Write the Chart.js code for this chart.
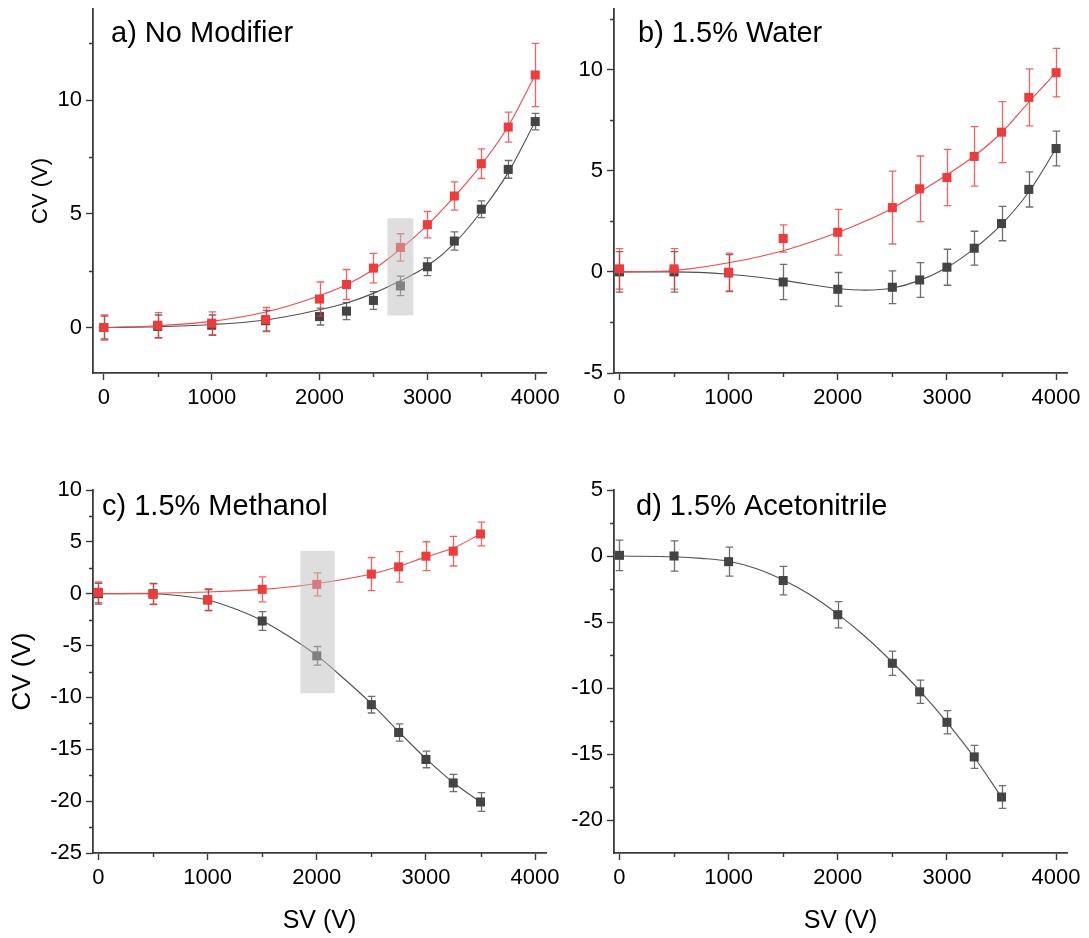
<!DOCTYPE html>
<html>
<head>
<meta charset="utf-8">
<script src="https://cdn.jsdelivr.net/npm/chart.js@4.4.1/dist/chart.umd.min.js"></script>
<style>
  html, body { margin: 0; padding: 0; background: #ffffff; }
  #wrap { position: relative; width: 1089px; height: 938px; overflow: hidden; }
  #wrap canvas { position: absolute; left: 0; top: 0; }
</style>
</head>
<body>
<div id="wrap">
  <canvas id="panelA" width="1089" height="938"></canvas>
  <canvas id="panelB" width="1089" height="938"></canvas>
  <canvas id="panelC" width="1089" height="938"></canvas>
  <canvas id="panelD" width="1089" height="938"></canvas>
</div>
<script>
// ---------- shared SV axis ----------
const X_TICKS = [0, 1000, 2000, 3000, 4000];
const X_MINOR = [500, 1500, 2500, 3500];

// ---------- a) No Modifier ----------
const svA        = [0, 500, 1000, 1500, 2000, 2250, 2500, 2750, 3000, 3250, 3500, 3750, 4000];
const cvA_red    = [0, 0.10, 0.19, 0.35, 1.25, 1.89, 2.61, 3.52, 4.52, 5.78, 7.20, 8.81, 11.10];
const errA_red   = [0.55, 0.55, 0.50, 0.53, 0.75, 0.66, 0.65, 0.60, 0.58, 0.62, 0.65, 0.66, 1.39];
const cvA_black  = [0, 0.05, 0.10, 0.30, 0.48, 0.72, 1.19, 1.83, 2.67, 3.80, 5.20, 6.95, 9.05];
const errA_black = [0.50, 0.50, 0.45, 0.45, 0.37, 0.37, 0.39, 0.43, 0.39, 0.40, 0.37, 0.39, 0.36];
const fitA_sv    = [0, 500, 1000, 1500, 2000, 2250, 2500, 2750, 3000, 3250, 3500, 3750, 4000];
const fitA_red   = [0, 0.08, 0.27, 0.68, 1.40, 1.88, 2.55, 3.45, 4.50, 5.75, 7.15, 8.85, 11.10];
const fitA_black = [0, 0.03, 0.13, 0.33, 0.78, 1.08, 1.50, 2.05, 2.70, 3.70, 5.10, 6.82, 9.05];
const yTicksA    = [0, 5, 10];
const yMinorA    = [2.5, 7.5, 12.5];
const boxA       = [2630, 2870, 0.53, 4.8];   // SV from, SV to, CV from, CV to

// ---------- b) 1.5% Water ----------
const svB        = [0, 500, 1000, 1500, 2000, 2500, 2750, 3000, 3250, 3500, 3750, 4000];
const cvB_red    = [0.15, 0.15, -0.02, 1.65, 1.96, 3.18, 4.11, 4.67, 5.71, 6.91, 8.63, 9.85];
const errB_red   = [1.00, 1.00, 0.95, 0.67, 1.13, 1.80, 1.62, 1.39, 1.47, 1.51, 1.41, 1.20];
const cvB_black  = [0, 0, -0.05, -0.50, -0.86, -0.76, -0.40, 0.23, 1.17, 2.39, 4.08, 6.10];
const errB_black = [1.00, 1.00, 0.90, 0.87, 0.83, 0.81, 0.86, 0.89, 0.84, 0.85, 0.87, 0.86];
const fitB_sv    = [0, 500, 1000, 1500, 2000, 2250, 2500, 2750, 3000, 3250, 3500, 3750, 4000];
const fitB_red   = [0, 0.07, 0.45, 1.05, 1.95, 2.50, 3.15, 3.95, 4.80, 5.73, 6.88, 8.40, 9.85];
const fitB_black = [0, 0, -0.12, -0.42, -0.82, -0.90, -0.80, -0.42, 0.22, 1.15, 2.35, 3.95, 6.10];
const yTicksB    = [-5, 0, 5, 10];
const yMinorB    = [-2.5, 2.5, 7.5, 12.5];

// ---------- c) 1.5% Methanol ----------
const svC        = [0, 500, 1000, 1500, 2000, 2500, 2750, 3000, 3250, 3500];
const cvC_red    = [0.13, -0.06, -0.58, 0.42, 0.90, 1.89, 2.59, 3.62, 4.10, 5.76];
const errC_red   = [1.00, 1.00, 1.07, 1.20, 1.10, 1.60, 1.47, 1.39, 1.43, 1.14];
const cvC_black  = [0, 0, -0.60, -2.63, -5.99, -10.70, -13.38, -15.98, -18.25, -20.08];
const errC_black = [1.00, 1.00, 1.00, 0.91, 0.90, 0.80, 0.83, 0.80, 0.83, 0.90];
const fitC_sv    = [0, 500, 750, 1000, 1250, 1500, 1750, 2000, 2250, 2500, 2750, 3000, 3250, 3500];
const fitC_red   = [0, 0.04, 0.09, 0.16, 0.27, 0.42, 0.65, 0.98, 1.40, 1.90, 2.62, 3.55, 4.40, 5.76];
const fitC_black = [0, 0, -0.20, -0.60, -1.45, -2.60, -4.15, -5.95, -8.20, -10.60, -13.30, -15.90, -18.20, -20.10];
const yTicksC    = [-25, -20, -15, -10, -5, 0, 5, 10];
const yMinorC    = [-22.5, -17.5, -12.5, -7.5, -2.5, 2.5, 7.5];
const boxC       = [1850, 2165, -9.6, 4.13];

// ---------- d) 1.5% Acetonitrile ----------
const svD        = [0, 500, 1000, 1500, 2000, 2500, 2750, 3000, 3250, 3500];
const cvD_black  = [0.05, 0, -0.43, -1.86, -4.45, -8.13, -10.29, -12.60, -15.22, -18.26];
const errD_black = [1.16, 1.15, 1.10, 1.08, 1.00, 0.92, 0.88, 0.88, 0.87, 0.86];
const fitD_sv    = [0, 500, 750, 1000, 1250, 1500, 1750, 2000, 2250, 2500, 2750, 3000, 3250, 3500];
const fitD_black = [0, -0.06, -0.18, -0.40, -0.95, -1.82, -2.95, -4.40, -6.10, -8.05, -10.20, -12.60, -15.25, -18.26];
const yTicksD    = [-20, -15, -10, -5, 0, 5];
const yMinorD    = [-17.5, -12.5, -7.5, -2.5, 2.5];

// ---------- styling ----------
const FONT = '"Liberation Sans", Arial, Helvetica, sans-serif';
const AXIS = '#3a3a3a';
const RED = '#ee3b3b', RED_BAR = 'rgba(234,56,56,0.78)', RED_LINE = '#f04a4a';
const BLK = '#444444', BLK_BAR = 'rgba(70,70,70,0.78)', BLK_LINE = '#505050';

// error bars drawn just before each marker set
const errorBarPlugin = {
  id: 'errorBars',
  beforeDatasetDraw(chart, args) {
    const ds = chart.data.datasets[args.index];
    if (!ds.errorBars) return;
    const { ctx, scales: { x, y } } = chart;
    ctx.save();
    ctx.strokeStyle = ds.errorColor;
    ctx.lineWidth = 1.3;
    ds.data.forEach((p, i) => {
      const e = ds.errorBars[i];
      const px = Math.round(x.getPixelForValue(p.x)) + 0.5;
      const top = y.getPixelForValue(p.y + e);
      const bot = y.getPixelForValue(p.y - e);
      ctx.beginPath();
      ctx.moveTo(px, top); ctx.lineTo(px, bot);
      ctx.moveTo(px - 3.8, top); ctx.lineTo(px + 3.8, top);
      ctx.moveTo(px - 3.8, bot); ctx.lineTo(px + 3.8, bot);
      ctx.stroke();
    });
    ctx.restore();
  }
};

// translucent grey band over the highlighted SV step
const highlightPlugin = {
  id: 'highlight',
  afterDatasetsDraw(chart, args, opts) {
    if (!opts || !opts.box) return;
    const { ctx, scales: { x, y } } = chart;
    const [x0, x1, y0, y1] = opts.box;
    const l = x.getPixelForValue(x0), r = x.getPixelForValue(x1);
    const t = y.getPixelForValue(y1), b = y.getPixelForValue(y0);
    ctx.save();
    ctx.fillStyle = 'rgba(190,190,190,0.5)';
    ctx.fillRect(l, t, r - l, b - t);
    ctx.restore();
  }
};

// half-length ticks between the labelled ones
const minorTickPlugin = {
  id: 'minorTicks',
  afterDraw(chart, args, opts) {
    if (!opts) return;
    const { ctx, chartArea, scales: { x, y } } = chart;
    ctx.save();
    ctx.strokeStyle = AXIS;
    ctx.lineWidth = 1.4;
    ctx.beginPath();
    (opts.x || []).forEach(v => {
      const px = Math.round(x.getPixelForValue(v)) + 0.5;
      ctx.moveTo(px, chartArea.bottom); ctx.lineTo(px, chartArea.bottom + 4);
    });
    (opts.y || []).forEach(v => {
      const py = Math.round(y.getPixelForValue(v)) + 0.5;
      ctx.moveTo(chartArea.left, py); ctx.lineTo(chartArea.left - 4, py);
    });
    ctx.stroke();
    ctx.restore();
  }
};

// panel caption inside the plot area
const captionPlugin = {
  id: 'caption',
  afterDraw(chart, args, opts) {
    if (!opts || !opts.text) return;
    const { ctx, chartArea } = chart;
    ctx.save();
    ctx.font = '29px ' + FONT;
    ctx.fillStyle = '#000';
    ctx.textAlign = 'left';
    ctx.textBaseline = 'alphabetic';
    ctx.fillText(opts.text, chartArea.left + opts.dx, chartArea.top + opts.dy);
    ctx.restore();
  }
};

function pts(xs, ys) { return xs.map((v, i) => ({ x: v, y: ys[i] })); }

function markers(xs, ys, errs, color, barColor) {
  return {
    type: 'scatter', data: pts(xs, ys), errorBars: errs, errorColor: barColor,
    pointStyle: 'rect', pointRadius: 6.4, pointHoverRadius: 6.4,
    backgroundColor: color, borderColor: color, borderWidth: 0
  };
}

function fitLine(xs, ys, color) {
  return {
    type: 'line', data: pts(xs, ys), borderColor: color, borderWidth: 1.1,
    pointRadius: 0, cubicInterpolationMode: 'monotone', fill: false
  };
}

function makePanel(id, p) {
  const valueTicks = arr => s => { s.ticks = arr.map(v => ({ value: v })); };
  new Chart(document.getElementById(id), {
    data: { datasets: p.datasets },
    options: {
      responsive: false, animation: false, events: [],
      layout: { padding: p.pad },
      plugins: {
        legend: { display: false }, tooltip: { enabled: false },
        highlight: { box: p.box },
        minorTicks: { x: X_MINOR, y: p.yMinor },
        caption: p.caption
      },
      scales: {
        x: {
          type: 'linear', position: 'bottom', min: p.xMin, max: 4100,
          afterBuildTicks: valueTicks(X_TICKS),
          afterFit: s => { s.height = p.xH; s.paddingLeft = 0; s.paddingRight = 0; },
          grid: { drawOnChartArea: false, drawTicks: true, tickLength: 7, tickColor: AXIS, tickWidth: 1.4 },
          border: { display: true, color: AXIS, width: 1.8 },
          ticks: { font: { family: FONT, size: 22 }, color: '#000', padding: 5, maxRotation: 0, autoSkip: false,
                   callback: v => String(v) },
          title: p.xTitle
        },
        y: {
          type: 'linear', position: 'left', min: p.yMin, max: p.yMax,
          afterBuildTicks: valueTicks(p.yTicks),
          afterFit: s => { s.width = 93; s.paddingTop = 0; s.paddingBottom = 0; },
          grid: { drawOnChartArea: false, drawTicks: true, tickLength: 7, tickColor: AXIS, tickWidth: 1.4 },
          border: { display: true, color: AXIS, width: 1.8 },
          ticks: { font: { family: FONT, size: 22 }, color: '#000', padding: 4, autoSkip: false,
                   callback: v => String(v) },
          title: p.yTitle
        }
      }
    },
    plugins: [errorBarPlugin, highlightPlugin, minorTickPlugin, captionPlugin]
  });
}

const svTitle = { display: true, text: 'SV (V)', color: '#000', font: { family: FONT, size: 25 }, padding: { top: 0, bottom: 2 } };
const noTitle = { display: false };

makePanel('panelA', {
  pad: { left: 0, right: 543, top: 9, bottom: 505 }, xH: 60, xMin: -100,
  yMin: -2, yMax: 14, yTicks: yTicksA, yMinor: yMinorA, box: boxA,
  caption: { text: 'a) No Modifier', dx: 18, dy: 33 },
  xTitle: noTitle,
  yTitle: { display: true, text: 'CV (V)', color: '#000', font: { family: FONT, size: 22 }, padding: { top: 28, bottom: 0 } },
  datasets: [
    markers(svA, cvA_red, errA_red, RED, RED_BAR),
    markers(svA, cvA_black, errA_black, BLK, BLK_BAR),
    fitLine(fitA_sv, fitA_red, RED_LINE),
    fitLine(fitA_sv, fitA_black, BLK_LINE)
  ]
});

makePanel('panelB', {
  pad: { left: 521, right: 22, top: 9, bottom: 505 }, xH: 60, xMin: -50,
  yMin: -5, yMax: 13, yTicks: yTicksB, yMinor: yMinorB, box: null,
  caption: { text: 'b) 1.5% Water', dx: 24, dy: 33 },
  xTitle: noTitle, yTitle: noTitle,
  datasets: [
    markers(svB, cvB_red, errB_red, RED, RED_BAR),
    markers(svB, cvB_black, errB_black, BLK, BLK_BAR),
    fitLine(fitB_sv, fitB_red, RED_LINE),
    fitLine(fitB_sv, fitB_black, BLK_LINE)
  ]
});

makePanel('panelC', {
  pad: { left: 0, right: 543, top: 490, bottom: 0 }, xH: 85, xMin: -50,
  yMin: -25, yMax: 10, yTicks: yTicksC, yMinor: yMinorC, box: boxC,
  caption: { text: 'c) 1.5% Methanol', dx: 9, dy: 25 },
  xTitle: svTitle,
  yTitle: { display: true, text: 'CV (V)', color: '#000', font: { family: FONT, size: 26 }, padding: { top: 7, bottom: 0 } },
  datasets: [
    markers(svC, cvC_red, errC_red, RED, RED_BAR),
    markers(svC, cvC_black, errC_black, BLK, BLK_BAR),
    fitLine(fitC_sv, fitC_red, RED_LINE),
    fitLine(fitC_sv, fitC_black, BLK_LINE)
  ]
});

makePanel('panelD', {
  pad: { left: 521, right: 22, top: 490, bottom: 0 }, xH: 85, xMin: -50,
  yMin: -22.5, yMax: 5, yTicks: yTicksD, yMinor: yMinorD, box: null,
  caption: { text: 'd) 1.5% Acetonitrile', dx: 22, dy: 25 },
  xTitle: svTitle, yTitle: noTitle,
  datasets: [
    markers(svD, cvD_black, errD_black, BLK, BLK_BAR),
    fitLine(fitD_sv, fitD_black, BLK_LINE)
  ]
});
</script>
</body>
</html>
